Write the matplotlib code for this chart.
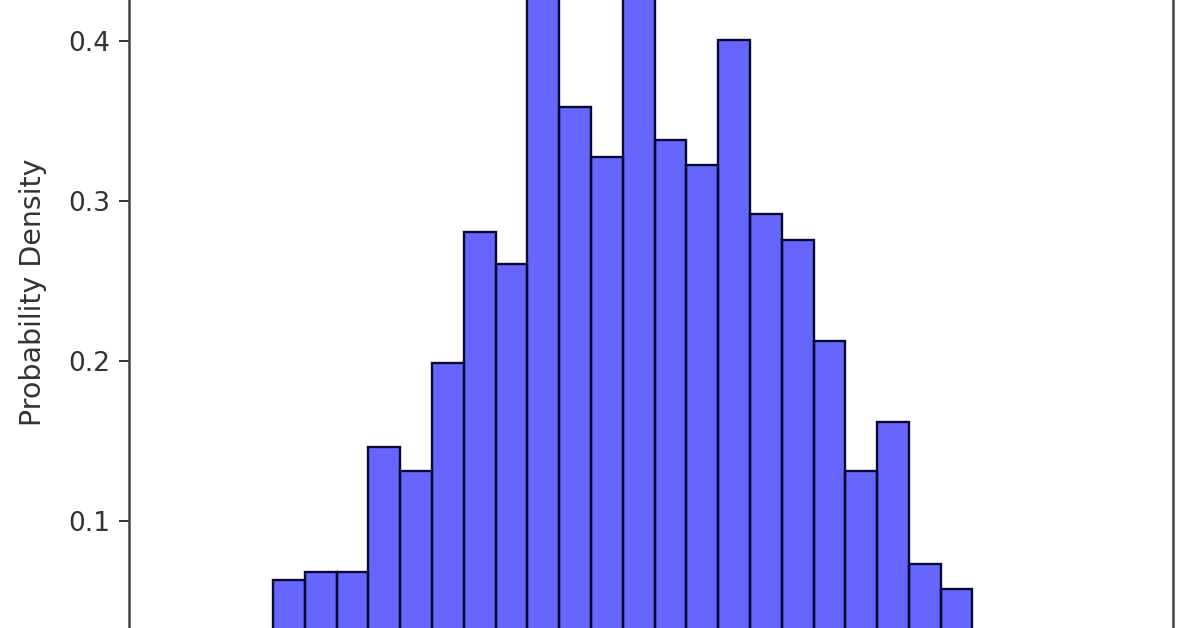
import numpy as np
import matplotlib.pyplot as plt

# histogram bins (left edges) and density heights
bin_edges = [-2.2, -2.0, -1.8, -1.6, -1.4, -1.2, -1.0, -0.8, -0.6, -0.4, -0.2,
             0.0, 0.2, 0.4, 0.6, 0.8, 1.0, 1.2, 1.4, 1.6, 1.8, 2.0, 2.2]
density = [0.063, 0.068, 0.068, 0.146, 0.131, 0.199, 0.281, 0.261, 0.45, 0.359,
           0.3275, 0.44, 0.338, 0.3225, 0.401, 0.292, 0.276, 0.2125, 0.131,
           0.162, 0.073, 0.0575]
yticks = [0.1, 0.2, 0.3, 0.4]

fig = plt.figure(figsize=(11.96, 6.28), dpi=100)
ax = fig.add_axes([0.108, -0.0844, 0.873, 1.197])

lefts = np.array(bin_edges[:-1])
widths = np.diff(bin_edges)
ax.bar(lefts, density, width=widths, align='edge', color='blue', alpha=0.6,
       edgecolor='none')
ax.bar(lefts, density, width=widths, align='edge', fill=False,
       edgecolor='#0a0a30', linewidth=1.7)

ax.set_xlim(-3.105, 3.463)
ax.set_ylim(0, 0.47)
ax.set_yticks(yticks)
ax.set_xticks([])
ax.tick_params(axis='y', labelsize=19, length=7.2, width=1.4, pad=6.5,
               colors='#333333')
ax.set_ylabel('Probability Density', fontsize=20.5, color='#333333')
ax.yaxis.set_label_coords(-0.079, 0.5175)
for s in ax.spines.values():
    s.set_linewidth(1.8)
    s.set_color('#444444')

fig.savefig('out.png', dpi=100)
